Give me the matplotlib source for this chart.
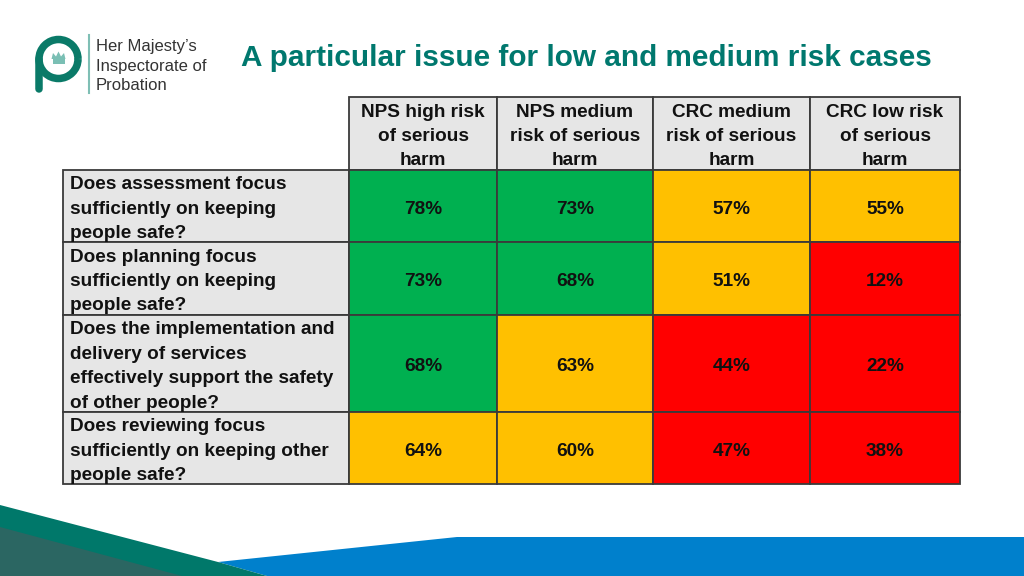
import matplotlib
matplotlib.use("Agg")
import matplotlib.pyplot as plt
from matplotlib.patches import Rectangle, Polygon, Arc
import numpy as np

plt.rcParams['font.family'] = ['Liberation Sans', 'DejaVu Sans']

title = "A particular issue for low and medium risk cases"
columns = ["NPS high risk\nof serious\nharm", "NPS medium\nrisk of serious\nharm",
           "CRC medium\nrisk of serious\nharm", "CRC low risk\nof serious\nharm"]
row_labels = ["Does assessment focus\nsufficiently on keeping\npeople safe?",
              "Does planning focus\nsufficiently on keeping\npeople safe?",
              "Does the implementation and\ndelivery of services\neffectively support the safety\nof other people?",
              "Does reviewing focus\nsufficiently on keeping other\npeople safe?"]
values = [[78, 73, 57, 55],
          [73, 68, 51, 12],
          [68, 63, 44, 22],
          [64, 60, 47, 38]]
ratings = [["G", "G", "A", "A"],
           ["G", "G", "A", "R"],
           ["G", "A", "R", "R"],
           ["A", "A", "R", "R"]]
rag_colors = {"G": "#00B050", "A": "#FFC000", "R": "#FF0000"}

W, H = 1024, 576
fig = plt.figure(figsize=(W / 100, H / 100), dpi=100)
ax = fig.add_axes([0, 0, 1, 1])
ax.set_xlim(0, W)
ax.set_ylim(H, 0)
ax.axis('off')

# Table geometry (pixels)
col_x = [63, 349, 497, 653, 810, 960]
row_y = [97, 170, 242, 315, 412, 484]
grey = "#E6E6E6"
edge = "#3a3a3a"
lw = 1.3
fs = 13.7
ls = 1.57
dy = 3

# header cells
for j, lab in enumerate(columns):
    x0, x1 = col_x[j + 1], col_x[j + 2]
    ax.add_patch(Rectangle((x0, row_y[0]), x1 - x0, row_y[1] - row_y[0],
                           facecolor=grey, edgecolor=edge, lw=lw))
    ax.text((x0 + x1) / 2, (row_y[0] + row_y[1]) / 2 + dy, lab, ha='center', va='center',
            fontsize=fs, fontweight='bold', color='#111111', linespacing=ls)

# body
for i, lab in enumerate(row_labels):
    y0, y1 = row_y[i + 1], row_y[i + 2]
    ax.add_patch(Rectangle((col_x[0], y0), col_x[1] - col_x[0], y1 - y0,
                           facecolor=grey, edgecolor=edge, lw=lw))
    ax.text(col_x[0] + 7, (y0 + y1) / 2 + dy, lab, ha='left', va='center',
            fontsize=fs, fontweight='bold', color='#111111', linespacing=ls)
    for j, v in enumerate(values[i]):
        x0, x1 = col_x[j + 1], col_x[j + 2]
        ax.add_patch(Rectangle((x0, y0), x1 - x0, y1 - y0,
                               facecolor=rag_colors[ratings[i][j]], edgecolor=edge, lw=lw))
        ax.text((x0 + x1) / 2, (y0 + y1) / 2 + dy, f"{v}%", ha='center', va='center',
                fontsize=fs, fontweight='bold', color='#111111')

# Title
ax.text(241, 58, title, ha='left', va='center', fontsize=21.4, fontweight='bold',
        color='#00786E')

# Logo
teal = "#0A7A68"
ax.add_patch(Arc((58.5, 59), 39, 39, theta1=0, theta2=360, lw=5.4, color=teal))
ax.plot([39, 39], [59, 89], color=teal, lw=5.4, solid_capstyle='round')
# crown
cr = "#7ABFB4"
ax.add_patch(Rectangle((52.5, 59), 12, 5, facecolor=cr, edgecolor='none'))
ax.add_patch(Polygon([(51.5, 59), (53, 53), (56, 56.5), (58.5, 51.5), (61, 56.5), (64, 53), (65.5, 59)],
                     closed=True, facecolor=cr, edgecolor='none'))
ax.plot([89, 89], [35, 93], color="#7FBFB5", lw=1.5)
for k, line in enumerate(["Her Majesty\u2019s", "Inspectorate of", "Probation"]):
    ax.text(96, 47 + k * 19, line, ha='left', va='center', fontsize=12, color='#333333')

# Bottom decoration
ax.add_patch(Polygon([(218, 562), (457, 537), (1024, 537), (1024, 576), (267, 576)],
                     closed=True, facecolor="#0080CC", edgecolor='none'))
ax.add_patch(Polygon([(0, 505), (218, 562), (267, 576), (0, 576)],
                     closed=True, facecolor="#00786A", edgecolor='none'))
ax.add_patch(Polygon([(0, 527), (182, 576), (0, 576)],
                     closed=True, facecolor="#2B6662", edgecolor='none'))

fig.savefig("out.png", dpi=100)
